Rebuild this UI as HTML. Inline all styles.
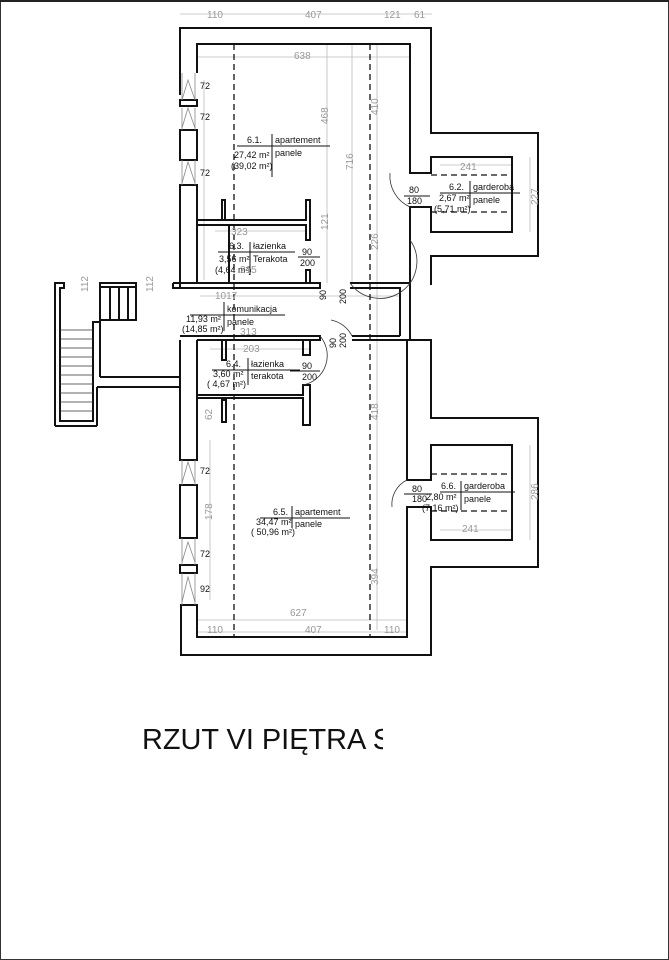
<!DOCTYPE html>
<html><head><meta charset="utf-8"><style>
html,body{margin:0;padding:0;background:#fff;}
svg{display:block;}
text{font-family:"Liberation Sans",sans-serif;}
.d{fill:#999;font-size:10px;}
.l{fill:#111;font-size:9px;}
</style></head><body>
<svg width="669" height="960" viewBox="0 0 669 960" xmlns="http://www.w3.org/2000/svg">
<rect x="0.5" y="0.5" width="668" height="959" fill="none" stroke="#333" stroke-width="1"/>
<line x1="0" y1="1" x2="669" y2="1" stroke="#222" stroke-width="2"/>
<g stroke="#bbb" stroke-width="0.8" fill="none">
<line x1="180" y1="14" x2="432" y2="14"/>
<line x1="197" y1="57" x2="410" y2="57"/>
<line x1="327" y1="44" x2="327" y2="283"/>
<line x1="352" y1="44" x2="352" y2="283"/>
<line x1="377" y1="44" x2="377" y2="630"/>
<line x1="440" y1="165" x2="512" y2="165"/>
<line x1="530" y1="157" x2="530" y2="232"/>
<line x1="200" y1="296" x2="400" y2="296"/>
<line x1="210" y1="349" x2="310" y2="349"/>
<line x1="197" y1="620" x2="407" y2="620"/>
<line x1="197" y1="632" x2="407" y2="632"/>
<line x1="440" y1="530" x2="512" y2="530"/>
<line x1="530" y1="445" x2="530" y2="540"/>
<line x1="215" y1="231" x2="306" y2="231"/>
<line x1="204" y1="80" x2="204" y2="280"/>
<line x1="210" y1="440" x2="210" y2="600"/>
</g>
<g stroke="#111" stroke-width="1.3" stroke-dasharray="6,4">
<line x1="234" y1="44" x2="234" y2="636"/>
<line x1="370" y1="44" x2="370" y2="636"/>
<line x1="431" y1="175" x2="512" y2="175"/>
<line x1="431" y1="212" x2="512" y2="212"/>
<line x1="431" y1="474" x2="512" y2="474"/>
<line x1="431" y1="511" x2="512" y2="511"/>
</g>
<g stroke="#111" stroke-width="2" fill="none">
<polyline points="180,95 180,28 431,28 431,133 538,133 538,256 431,256 431,285"/>
<polyline points="197,73 197,44 410,44 410,173 431,173 431,157 512,157 512,232 431,232 431,207 410,207 410,283"/>
<polyline points="410,340 431,340 431,418 538,418 538,567 431,567 431,655 181,655 181,605 197,605 197,637 407,637 407,507 431,507 431,540 512,540 512,445 431,445 431,480 407,480 407,340"/>
<rect x="180" y="100" width="17" height="6"/>
<rect x="180" y="130" width="17" height="30"/>
<polyline points="180,288 180,185 197,185 197,283"/>
<rect x="180" y="565" width="17" height="8"/>
<rect x="180" y="485" width="17" height="53"/>
<polyline points="180,340 180,460 197,460 197,340"/>
<polyline points="173,283 320,283 320,288 173,288 173,283"/>
<polyline points="350,283 410,283 410,340"/>
<polyline points="350,288 400,288 400,336"/>
<polyline points="180,336 320,336 320,340 197,340"/>
<polyline points="352,336 400,336"/>
<polyline points="352,340 410,340"/>
<polyline points="197,220 306,220 306,200 310,200 310,240 306,240 306,225 197,225"/>
<rect x="306" y="270" width="4" height="13"/>
<rect x="222" y="200" width="3" height="20"/>
<line x1="229" y1="225" x2="229" y2="283"/>
<polyline points="197,395 303,395 303,385 310,385 310,425 303,425 303,398 197,398"/>
<rect x="303" y="340" width="7" height="15"/>
<rect x="222" y="340" width="4" height="20"/>
<rect x="222" y="400" width="4" height="22"/>
<polyline points="55,426 55,283 64,283 64,288 60,288 60,421 93,421 93,322 100,322 100,283"/>
<polyline points="97,426 55,426"/>
<polyline points="100,377 180,377"/>
<polyline points="97,387 180,387"/>
<line x1="97" y1="387" x2="97" y2="426"/>
<rect x="100" y="283" width="36" height="37"/>
<rect x="100" y="283" width="36" height="4"/>
<line x1="110" y1="288" x2="110" y2="320"/>
<line x1="119" y1="288" x2="119" y2="320"/>
<line x1="128" y1="288" x2="128" y2="320"/>
<line x1="100" y1="320" x2="100" y2="377"/>
</g>
<g stroke="#333" stroke-width="0.8">
<line x1="60" y1="330" x2="93" y2="330"/><line x1="60" y1="339" x2="93" y2="339"/>
<line x1="60" y1="348" x2="93" y2="348"/><line x1="60" y1="357" x2="93" y2="357"/>
<line x1="60" y1="366" x2="93" y2="366"/><line x1="60" y1="375" x2="93" y2="375"/>
<line x1="60" y1="384" x2="93" y2="384"/><line x1="60" y1="393" x2="93" y2="393"/>
<line x1="60" y1="402" x2="93" y2="402"/><line x1="60" y1="411" x2="93" y2="411"/>
</g>
<g stroke="#888" stroke-width="0.8" fill="none">
<path d="M182,73 L182,100 M195,73 L195,100 M182,108 L182,130 M195,108 L195,130 M182,160 L182,185 M195,160 L195,185"/>
<path d="M182,460 L182,485 M195,460 L195,485 M182,538 L182,565 M195,538 L195,565 M182,573 L182,605 M195,573 L195,605"/>
<path d="M182,100 L188,80 L195,100 M182,128 L188,108 L195,128 M182,183 L188,162 L195,183 M182,483 L188,462 L195,483 M182,562 L188,542 L195,562 M182,602 L188,577 L195,602"/>
</g>
<g stroke="#333" stroke-width="0.8" fill="none">
<path d="M410,240 A30,30 0 0 1 350,283"/>
<path d="M410,207 A34,34 0 0 1 390,173"/>
<path d="M331,320 A30,30 0 0 1 352,336"/>
<path d="M320,336 A30,30 0 0 1 303,385"/>
<path d="M407,480 A27,27 0 0 0 392,507"/>
</g>
<g>
<line x1="237" y1="146" x2="330" y2="146" stroke="#111"/><line x1="272" y1="134" x2="272" y2="177" stroke="#111"/>
<text class="l" x="247" y="143">6.1.</text><text class="l" x="275" y="143">apartement</text>
<text class="l" x="275" y="156">panele</text>
<text class="l" x="234" y="158">27,42 m²</text><text class="l" x="231" y="169">(39,02 m²)</text>
<line x1="440" y1="193" x2="520" y2="193" stroke="#111"/><line x1="470" y1="181" x2="470" y2="208" stroke="#111"/>
<text class="l" x="449" y="190">6.2.</text><text class="l" x="473" y="190">garderoba</text>
<text class="l" x="473" y="203">panele</text><text class="l" x="439" y="201">2,67 m²</text><text class="l" x="434" y="212">(5,71 m²)</text>
<text class="l" x="409" y="193">80</text><line x1="404" y1="196" x2="430" y2="196" stroke="#111"/><text class="l" x="407" y="204">180</text>
<line x1="218" y1="252" x2="295" y2="252" stroke="#111"/><line x1="250" y1="242" x2="250" y2="275" stroke="#111"/>
<text class="l" x="229" y="249">6.3.</text><text class="l" x="253" y="249">łazienka</text>
<text class="l" x="253" y="262">Terakota</text><text class="l" x="219" y="262">3,56 m²</text><text class="l" x="215" y="273">(4,64 m²)</text>
<text class="l" x="302" y="255">90</text><line x1="298" y1="257" x2="320" y2="257" stroke="#111"/><text class="l" x="300" y="266">200</text>
<line x1="190" y1="315" x2="285" y2="315" stroke="#111"/><line x1="224" y1="302" x2="224" y2="331" stroke="#111"/>
<text class="l" x="227" y="312">komunikacja</text><text class="l" x="227" y="325">panele</text>
<text class="l" x="186" y="322">11,93 m²</text><text class="l" x="182" y="332">(14,85 m²)</text>
<line x1="212" y1="370" x2="300" y2="370" stroke="#111"/><line x1="248" y1="358" x2="248" y2="385" stroke="#111"/>
<text class="l" x="226" y="367">6.4.</text><text class="l" x="251" y="367">łazienka</text>
<text class="l" x="251" y="379">terakota</text><text class="l" x="213" y="377">3,60 m²</text><text class="l" x="207" y="387">( 4,67 m²)</text>
<text class="l" x="302" y="369">90</text><line x1="290" y1="371" x2="320" y2="371" stroke="#111"/><text class="l" x="302" y="380">200</text>
<text class="l" x="326" y="300" transform="rotate(-90 326 300)">90</text><text class="l" x="346" y="304" transform="rotate(-90 346 304)">200</text>
<text class="l" x="336" y="348" transform="rotate(-90 336 348)">90</text><text class="l" x="346" y="348" transform="rotate(-90 346 348)">200</text>
<line x1="260" y1="518" x2="350" y2="518" stroke="#111"/><line x1="292" y1="506" x2="292" y2="528" stroke="#111"/>
<text class="l" x="273" y="515">6.5.</text><text class="l" x="295" y="515">apartement</text>
<text class="l" x="295" y="527">panele</text><text class="l" x="256" y="525">34,47 m²</text><text class="l" x="251" y="535">( 50,96 m²)</text>
<line x1="440" y1="492" x2="515" y2="492" stroke="#111"/><line x1="461" y1="481" x2="461" y2="510" stroke="#111"/>
<text class="l" x="441" y="489">6.6.</text><text class="l" x="464" y="489">garderoba</text>
<text class="l" x="464" y="502">panele</text><text class="l" x="426" y="500">2,80 m²</text><text class="l" x="422" y="511">(7,16 m²)</text>
<text class="l" x="412" y="492">80</text><line x1="404" y1="494" x2="432" y2="494" stroke="#111"/><text class="l" x="412" y="502">180</text>
<text class="l" x="200" y="89">72</text><text class="l" x="200" y="120">72</text><text class="l" x="200" y="176">72</text>
<text class="l" x="200" y="474">72</text><text class="l" x="200" y="557">72</text><text class="l" x="200" y="592">92</text>
</g>
<g class="d">
<text x="207" y="18">110</text><text x="305" y="18">407</text><text x="384" y="18">121</text><text x="414" y="18">61</text>
<text x="294" y="59">638</text><text x="460" y="170">241</text><text x="231" y="235">323</text><text x="240" y="273">215</text>
<text x="215" y="299">1017</text><text x="240" y="335">313</text><text x="243" y="352">203</text>
<text x="290" y="616">627</text><text x="207" y="633">110</text><text x="305" y="633">407</text><text x="384" y="633">110</text>
<text x="462" y="532">241</text>
<text x="328" y="124" transform="rotate(-90 328 124)">468</text>
<text x="353" y="170" transform="rotate(-90 353 170)">716</text>
<text x="378" y="115" transform="rotate(-90 378 115)">410</text>
<text x="378" y="250" transform="rotate(-90 378 250)">226</text>
<text x="378" y="420" transform="rotate(-90 378 420)">418</text>
<text x="378" y="585" transform="rotate(-90 378 585)">394</text>
<text x="328" y="230" transform="rotate(-90 328 230)">121</text>
<text x="88" y="292" transform="rotate(-90 88 292)">112</text>
<text x="153" y="292" transform="rotate(-90 153 292)">112</text>
<text x="538" y="205" transform="rotate(-90 538 205)">227</text>
<text x="538" y="500" transform="rotate(-90 538 500)">286</text>
<text x="212" y="520" transform="rotate(-90 212 520)">178</text>
<text x="212" y="420" transform="rotate(-90 212 420)">62</text>
</g>
<svg x="0" y="700" width="383" height="80" overflow="hidden">
<text x="142" y="49" font-size="29" textLength="250" lengthAdjust="spacingAndGlyphs" fill="#111" style="font-family:'Liberation Sans',sans-serif">RZUT VI PIĘTRA S</text>
</svg>
</svg>
</body></html>
